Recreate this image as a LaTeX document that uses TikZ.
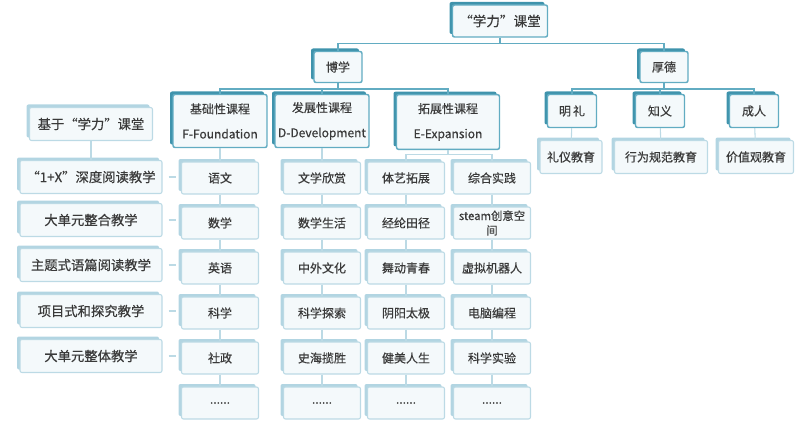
\documentclass[tikz,border=0pt]{standalone}
\usepackage{fontspec}
\newfontfamily\cjk[FakeBold=0.5]{Noto Sans CJK SC}
\usepackage{tikz}
\usetikzlibrary{shadows}
\definecolor{darkshade}{HTML}{3F93AC}
\definecolor{darkline}{HTML}{62ACC2}
\definecolor{lightshade}{HTML}{B2D5E2}
\definecolor{lightline}{HTML}{BCDAE5}
\definecolor{boxfill}{HTML}{F4F9FB}
\definecolor{txt}{HTML}{3A3A3A}
\tikzset{box/.style={shape=rectangle, rounded corners=1.5pt, fill=boxfill,
    inner sep=1pt}}
\tikzset{mainbox/.style={box, draw=darkline, line width=1.1pt,
    general shadow={shadow xshift=-2.25pt, shadow yshift=2.25pt, fill=darkshade}}}
\tikzset{leaf/.style={box, draw=lightline, line width=0.8pt,
    general shadow={shadow xshift=-2.25pt, shadow yshift=2.25pt, fill=lightshade},
    minimum width=57.75pt, minimum height=24pt}}
\tikzset{wide/.style={leaf, minimum width=106.5pt, minimum height=24.75pt,
    font=\cjk\fontsize{10}{12}\selectfont}}
\tikzset{course/.style={mainbox, minimum width=70.5pt, minimum height=39.75pt,
    align=center, font=\cjk\fontsize{9}{18.75}\selectfont}}
\tikzset{link/.style={draw=darkline, line width=1.1pt}}
\tikzset{twig/.style={draw=lightline, line width=0.8pt}}

\begin{document}
\begin{tikzpicture}[x=0.75pt, y=-0.75pt]
    \tikzstyle{every node}=[font=\cjk\fontsize{9}{11}\selectfont, text=txt]
    \useasboundingbox (0,0) rectangle (800,428);

    \node[mainbox, minimum width=71.25pt, minimum height=24pt,
      font=\cjk\fontsize{10.2}{12}\selectfont] (xueli) at (500, 21) {“学力”课堂};
    \node[mainbox, minimum width=36pt, minimum height=23.25pt] (boxue) at (338, 67) {博学};
    \node[mainbox, minimum width=36pt, minimum height=23.25pt] (houde) at (664, 67) {厚德};

    \node[course] (jc) at (220, 121) {基础性课程\\F-Foundation};
    \node[course] (fz) at (322, 121) {发展性课程\\D-Development};
    \node[course, minimum width=77.25pt, minimum height=41pt] (tz) at (448, 122) {拓展性课程\\E-Expansion};

    \node[mainbox, minimum width=36.75pt, minimum height=24.75pt] (ml) at (572, 111) {明\,礼};
    \node[mainbox, minimum width=36.75pt, minimum height=24.75pt] (zy) at (660, 111) {知义};
    \node[mainbox, minimum width=36.75pt, minimum height=24.75pt] (cr) at (754, 111) {成人};
    \node[leaf, minimum width=46.5pt, minimum height=24.75pt] (ly) at (571, 157) {礼仪教育};
    \node[leaf, minimum width=69.75pt, minimum height=24.75pt] (xw) at (661, 157) {行为规范教育};
    \node[leaf, minimum width=56.25pt, minimum height=24.75pt] (jz) at (756, 157) {价值观教育};

    \node[wide, minimum width=92.25pt] (jy) at (91, 124) {基于“学力”课堂};
    \node[wide] (l1) at (91, 177) {“1+X”深度阅读教学};
    \node[wide] (l2) at (91, 220) {大单元整合教学};
    \node[wide] (l3) at (91, 265) {主题式语篇阅读教学};
    \node[wide] (l4) at (91, 311) {项目式和探究教学};
    \node[wide] (l5) at (91, 356) {大单元整体教学};

    \node[leaf] (a1) at (220, 178) {语文};
    \node[leaf] (a2) at (220, 223) {数学};
    \node[leaf] (a3) at (220, 268) {英语};
    \node[leaf] (a4) at (220, 313) {科学};
    \node[leaf] (a5) at (220, 358) {社政};
    \node[leaf] (a6) at (220, 403) {......};

    \node[leaf] (b1) at (322, 178) {文学欣赏};
    \node[leaf] (b2) at (322, 223) {数学生活};
    \node[leaf] (b3) at (322, 268) {中外文化};
    \node[leaf] (b4) at (322, 313) {科学探索};
    \node[leaf] (b5) at (322, 358) {史海揽胜};
    \node[leaf] (b6) at (322, 403) {......};

    \node[leaf] (c1) at (406, 178) {体艺拓展};
    \node[leaf] (c2) at (406, 223) {经纶田径};
    \node[leaf] (c3) at (406, 268) {舞动青春};
    \node[leaf] (c4) at (406, 313) {阴阳太极};
    \node[leaf] (c5) at (406, 358) {健美人生};
    \node[leaf] (c6) at (406, 403) {......};

    \node[leaf] (d1) at (492, 178) {综合实践};
    \node[leaf, align=center, font=\cjk\fontsize{8.5}{11}\selectfont] (d2) at (492, 223) {steam创意空\\间};
    \node[leaf] (d3) at (492, 268) {虚拟机器人};
    \node[leaf] (d4) at (492, 313) {电脑编程};
    \node[leaf] (d5) at (492, 358) {科学实验};
    \node[leaf] (d6) at (492, 403) {......};

    \draw [link] (xueli.south) -- ++(0,6) -| (boxue.north);
    \draw [link] (xueli.south) -- ++(0,6) -| (houde.north);

    \draw [link] (boxue.south) -- ++(0,6) -| (jc.north);
    \draw [link] (boxue.south) -- ++(0,6) -| (fz.north);
    \draw [link] (boxue.south) -- ++(0,6) -| (tz.north);

    \draw [link] (houde.south) -- ++(0,6) -| (ml.north);
    \draw [link] (houde.south) -- ++(0,6) -| (zy.north);
    \draw [link] (houde.south) -- ++(0,6) -| (cr.north);
    \draw [twig] (ml) -- (ly);
    \draw [twig] (zy) -- (xw);
    \draw [twig] (cr) -- (jz);

    \draw [twig] (tz.south) -- ++(0,4) -| (c1.north);
    \draw [twig] (tz.south) -- ++(0,4) -| (d1.north);

    \draw [twig] (jc) -- (a1);
    \draw [twig] (a1) -- (a2);
    \draw [twig] (a2) -- (a3);
    \draw [twig] (a3) -- (a4);
    \draw [twig] (a4) -- (a5);
    \draw [twig] (a5) -- (a6);

    \draw [twig] (fz) -- (b1);
    \draw [twig] (b1) -- (b2);
    \draw [twig] (b2) -- (b3);
    \draw [twig] (b3) -- (b4);
    \draw [twig] (b4) -- (b5);
    \draw [twig] (b5) -- (b6);

    \draw [twig] (c1) -- (c2);
    \draw [twig] (c2) -- (c3);
    \draw [twig] (c3) -- (c4);
    \draw [twig] (c4) -- (c5);
    \draw [twig] (c5) -- (c6);

    \draw [twig] (d1) -- (d2);
    \draw [twig] (d2) -- (d3);
    \draw [twig] (d3) -- (d4);
    \draw [twig] (d4) -- (d5);
    \draw [twig] (d5) -- (d6);

    \draw [twig] (jy) -- (l1);
    \draw [twig, shorten <=4.5pt, shorten >=3.75pt] (l1.east) -- (l1.east -| a1.west);
    \draw [twig, shorten <=4.5pt, shorten >=3.75pt] (l2.east) -- (l2.east -| a2.west);
    \draw [twig, shorten <=4.5pt, shorten >=3.75pt] (l3.east) -- (l3.east -| a3.west);
    \draw [twig, shorten <=4.5pt, shorten >=3.75pt] (l4.east) -- (l4.east -| a4.west);
    \draw [twig, shorten <=4.5pt, shorten >=3.75pt] (l5.east) -- (l5.east -| a5.west);

  \end{tikzpicture}
\end{document}
